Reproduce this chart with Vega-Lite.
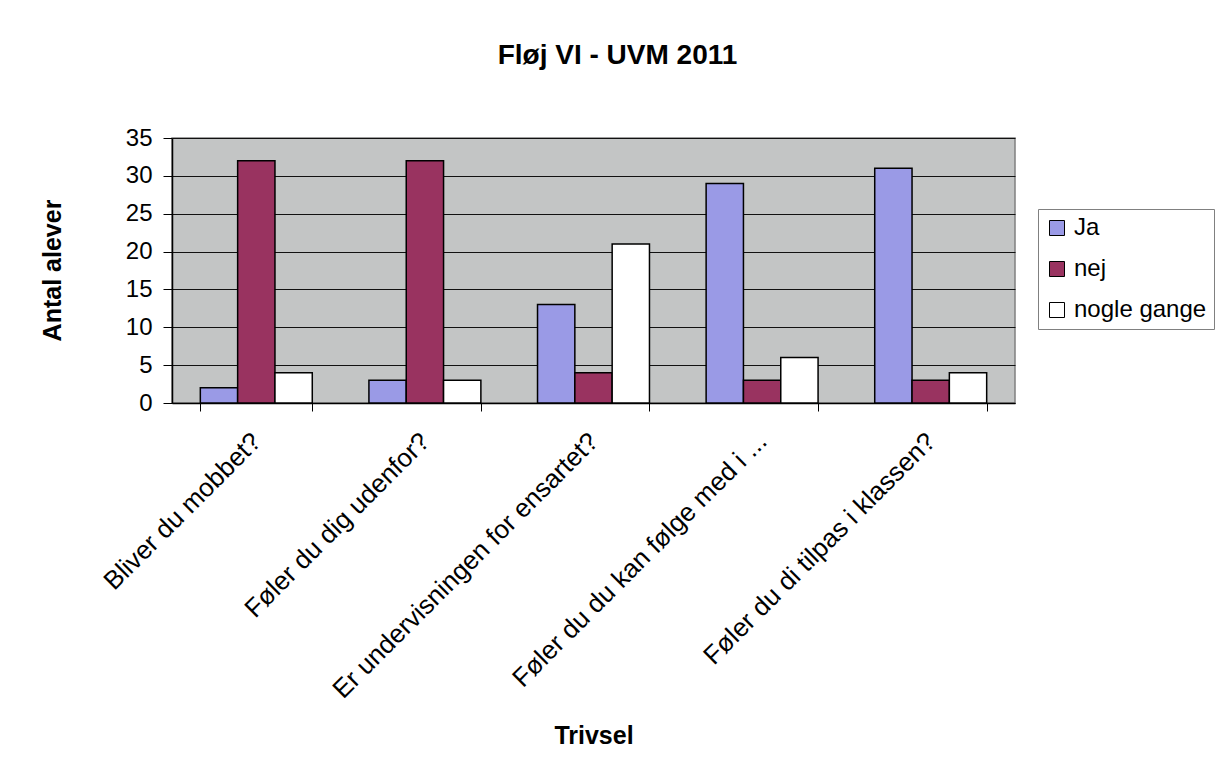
{
  "$schema": "https://vega.github.io/schema/vega-lite/v6.json",
  "width": 843,
  "height": 265,
  "autosize": {"type": "none"},
  "padding": {"left": 172, "top": 138, "right": 206, "bottom": 373},
  "background": "white",
  "title": {
    "text": "Fløj VI - UVM 2011",
    "font": "Liberation Sans",
    "fontSize": 28,
    "fontWeight": "bold",
    "color": "black",
    "anchor": "middle",
    "dx": 24,
    "baseline": "alphabetic",
    "offset": 34
  },
  "data": {
    "values": [
      {"question": "Bliver du mobbet?", "svar": "Ja", "antal": 2},
      {"question": "Bliver du mobbet?", "svar": "nej", "antal": 32},
      {"question": "Bliver du mobbet?", "svar": "nogle gange", "antal": 4},
      {"question": "Føler du dig udenfor?", "svar": "Ja", "antal": 3},
      {"question": "Føler du dig udenfor?", "svar": "nej", "antal": 32},
      {"question": "Føler du dig udenfor?", "svar": "nogle gange", "antal": 3},
      {"question": "Er undervisningen for ensartet?", "svar": "Ja", "antal": 13},
      {"question": "Er undervisningen for ensartet?", "svar": "nej", "antal": 4},
      {"question": "Er undervisningen for ensartet?", "svar": "nogle gange", "antal": 21},
      {"question": "Føler du du kan følge med i ...", "svar": "Ja", "antal": 29},
      {"question": "Føler du du kan følge med i ...", "svar": "nej", "antal": 3},
      {"question": "Føler du du kan følge med i ...", "svar": "nogle gange", "antal": 6},
      {"question": "Føler du di tilpas i klassen?", "svar": "Ja", "antal": 31},
      {"question": "Føler du di tilpas i klassen?", "svar": "nej", "antal": 3},
      {"question": "Føler du di tilpas i klassen?", "svar": "nogle gange", "antal": 4}
    ]
  },
  "mark": {"type": "bar", "stroke": "black", "strokeWidth": 1.5},
  "encoding": {
    "x": {
      "field": "question",
      "type": "nominal",
      "sort": null,
      "scale": {"paddingInner": 0.336, "paddingOuter": 0.168},
      "axis": {
        "title": "Trivsel",
        "titleFont": "Liberation Sans",
        "titleFontSize": 25,
        "titleFontWeight": "bold",
        "titleColor": "black",
        "titleBaseline": "alphabetic",
        "titleY": 340,
        "titleAnchor": "middle",
        "labelAngle": -45,
        "labelAlign": "right",
        "labelBaseline": "middle",
        "labelFont": "Liberation Sans",
        "labelFontSize": 26,
        "labelColor": "black",
        "labelPadding": 26,
        "labelLimit": 0,
        "tickBand": "extent",
        "ticks": true,
        "tickSize": 8,
        "tickColor": "black",
        "domainColor": "black",
        "domainWidth": 1.5,
        "grid": false
      }
    },
    "xOffset": {"field": "svar", "type": "nominal", "sort": ["Ja", "nej", "nogle gange"], "scale": {"paddingInner": 0}},
    "y": {
      "field": "antal",
      "type": "quantitative",
      "scale": {"domain": [0, 35], "nice": false},
      "axis": {
        "title": "Antal alever",
        "titleFont": "Liberation Sans",
        "titleFontSize": 25,
        "titleFontWeight": "bold",
        "titleColor": "black",
        "titleAngle": 270,
        "titleAlign": "center",
        "titleBaseline": "middle",
        "titleX": -120,
        "titleY": 132,
        "values": [0, 5, 10, 15, 20, 25, 30, 35],
        "labelFont": "Liberation Sans",
        "labelFontSize": 24,
        "labelColor": "black",
        "labelPadding": 11,
        "tickSize": 9,
        "tickColor": "black",
        "domainColor": "black",
        "domainWidth": 1.5,
        "grid": true,
        "gridColor": "#111111",
        "gridWidth": 1.2
      }
    },
    "color": {
      "field": "svar",
      "type": "nominal",
      "scale": {"domain": ["Ja", "nej", "nogle gange"], "range": ["#9a9ae6", "#993360", "#ffffff"]},
      "legend": {
        "title": null,
        "orient": "none",
        "legendX": 866,
        "legendY": 71,
        "padding": 7,
        "strokeColor": "#808080",
        "fillColor": "white",
        "labelFont": "Liberation Sans",
        "labelFontSize": 24,
        "labelColor": "black",
        "labelOffset": 5,
        "symbolType": "square",
        "symbolSize": 225,
        "symbolStrokeColor": "black",
        "symbolStrokeWidth": 1,
        "symbolOpacity": 1,
        "rowPadding": 17
      }
    }
  },
  "config": {
    "view": {"fill": "#c3c5c5", "stroke": "#808080", "strokeWidth": 1.5}
  }
}
